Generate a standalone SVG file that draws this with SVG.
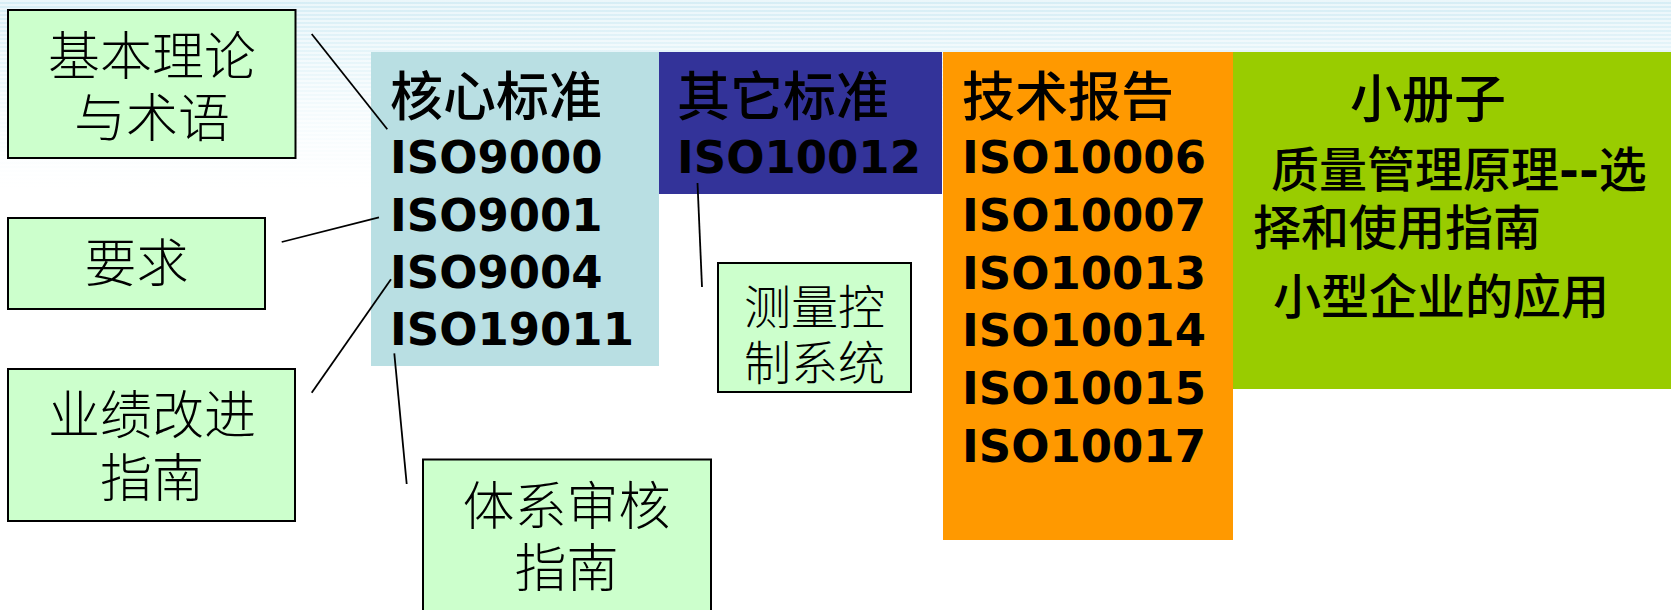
<svg xmlns="http://www.w3.org/2000/svg" width="1671" height="610" viewBox="0 0 1671 610">
<style>
.lbl{fill:#CCFFCC;stroke:#000;stroke-width:2}
.lt{font-family:"Liberation Sans","Noto Sans CJK SC","Noto Sans CJK JP",sans-serif;font-weight:300;font-size:52px;fill:#000;text-anchor:middle}
.tt{font-family:"Liberation Sans","Noto Sans CJK SC","Noto Sans CJK JP",sans-serif;font-weight:500;font-size:53px;fill:#000}
.gt{font-family:"Liberation Sans","Noto Sans CJK SC","Noto Sans CJK JP",sans-serif;font-weight:500;font-size:48px;fill:#000}
.iso{font-family:"DejaVu Sans","Liberation Sans",sans-serif;font-weight:bold;font-size:45px;fill:#000}
.dash{font-family:"DejaVu Sans","Liberation Sans",sans-serif;font-weight:bold}
.cn{stroke:#000;stroke-width:1.8;fill:none}
</style>
<defs>
<linearGradient id="bg" x1="0" y1="0" x2="0" y2="1">
<stop offset="0" stop-color="#D6EDF5"/>
<stop offset="0.25" stop-color="#E4F4F9"/>
<stop offset="0.6" stop-color="#F5FBFD"/>
<stop offset="1" stop-color="#FFFFFF"/>
</linearGradient>
<pattern id="st" width="20" height="4" patternUnits="userSpaceOnUse">
<rect width="20" height="2" fill="#FFFFFF" opacity="0.5"/>
</pattern>
</defs>
<rect width="1671" height="610" fill="#FFFFFF"/>
<rect width="1671" height="190" fill="url(#bg)"/>
<rect width="1671" height="190" fill="url(#st)"/>

<g id="core">
<rect x="371" y="52" width="288" height="314" fill="#B9DFE3"/>
<text class="tt" x="390" y="116">核心标准</text>
<text class="iso" x="390" y="173">ISO9000</text>
<text class="iso" x="390" y="231">ISO9001</text>
<text class="iso" x="390" y="288">ISO9004</text>
<text class="iso" x="390" y="345">ISO19011</text>
</g>
<g id="other">
<rect x="659" y="52" width="283" height="142" fill="#333399"/>
<text class="tt" x="677" y="116">其它标准</text>
<text class="iso" x="677" y="173">ISO10012</text>
</g>
<g id="tech">
<rect x="943" y="52" width="290" height="488" fill="#FF9900"/>
<text class="tt" x="962" y="116">技术报告</text>
<text class="iso" x="962" y="173">ISO10006</text>
<text class="iso" x="962" y="231">ISO10007</text>
<text class="iso" x="962" y="288.5">ISO10013</text>
<text class="iso" x="962" y="346">ISO10014</text>
<text class="iso" x="962" y="404">ISO10015</text>
<text class="iso" x="962" y="461.5">ISO10017</text>
</g>
<g id="booklet">
<rect x="1233" y="52" width="438" height="337" fill="#99CC00"/>
<text class="tt" x="1350" y="118" style="font-size:52px">小册子</text>
<text class="gt" x="1271" y="186.5">质量管理原理<tspan class="dash">--</tspan>选</text>
<text class="gt" x="1253" y="244.5">择和使用指南</text>
<text class="gt" x="1273" y="313.5">小型企业的应用</text>
</g>

<g id="basic">
<rect class="lbl" x="8" y="10" width="287.5" height="148"/>
<text class="lt" x="152" y="74.5">基本理论</text>
<text class="lt" x="152" y="136.5">与术语</text>
</g>
<g id="req">
<rect class="lbl" x="8" y="218" width="257" height="91"/>
<text class="lt" x="136.5" y="282">要求</text>
</g>
<g id="perf">
<rect class="lbl" x="8" y="369" width="287" height="152"/>
<text class="lt" x="152" y="434">业绩改进</text>
<text class="lt" x="152" y="497">指南</text>
</g>
<g id="audit">
<rect class="lbl" x="423" y="459.5" width="288" height="200"/>
<text class="lt" x="566.5" y="525">体系审核</text>
<text class="lt" x="566.5" y="586.5">指南</text>
</g>
<g id="measure">
<rect class="lbl" x="718" y="263" width="193" height="129"/>
<text class="lt" x="814.5" y="324" style="font-size:47px">测量控</text>
<text class="lt" x="814.5" y="380" style="font-size:47px">制系统</text>
</g>

<g id="connectors">
<line class="cn" x1="311.7" y1="34" x2="387.3" y2="129.3"/>
<line class="cn" x1="281.7" y1="242" x2="379" y2="217.3"/>
<line class="cn" x1="391" y1="279.3" x2="311.7" y2="392.7"/>
<line class="cn" x1="394.3" y1="353.3" x2="406.7" y2="484"/>
<line class="cn" x1="697.5" y1="183" x2="702" y2="287"/>
</g>
</svg>
